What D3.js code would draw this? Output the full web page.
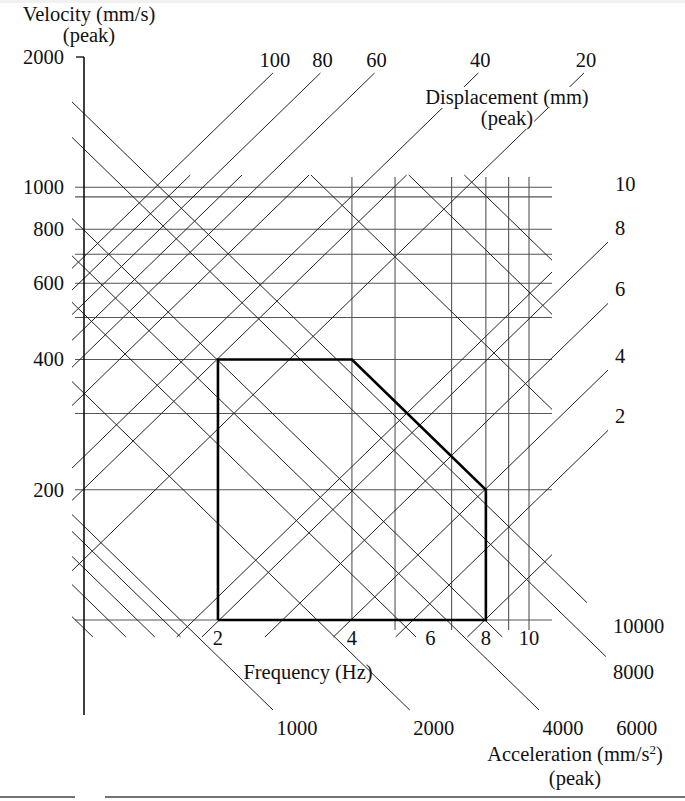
<!DOCTYPE html>
<html>
<head>
<meta charset="utf-8">
<script src="https://cdn.jsdelivr.net/npm/d3@7"></script>
<style>
  body { margin: 0; background: #fff; }
  svg { display: block; }
  text { font-family: "Liberation Serif", "DejaVu Serif", serif; fill: #111; }
</style>
</head>
<body>
<div id="chart"></div>
<script>
// values (velocity mm/s, frequency Hz)
var velTicks = [2000, 1000, 800, 600, 400, 200];
var velGrid = [100, 200, 300, 400, 500, 600, 700, 800, 950, 1000];
var freqTicks = [2, 4, 6, 8, 10];
var freqGridLong = [5, 6.7, 9, 10];
var freqGridShort = [4, 8];

// constant displacement lines (mm), where they sit in the drawing
var dispLines = [110, 98, 86, 75, 65, 53, 38, 32, 22, 9, 7.9, 5.7, 4, 2.9, 2];
var dispTop = [110, 86, 65, 38, 22];
var dispTopText = ["100", "80", "60", "40", "20"];
var dispRight = [10, 7.9, 5.7, 4, 2.9];
var dispRightText = ["10", "8", "6", "4", "2"];

// constant acceleration lines (mm/s^2)
var accLines = [48000, 36000, 21700, 9300, 7700, 5000, 4100, 3200, 2100, 1035, 946, 828, 713, 601];
var accBottom = [1035, 2100, 4100, 6000];
var accBottomText = ["1000", "2000", "4000", "6000"];
var accRight = [9300, 7700];
var accRightText = ["10000", "8000"];

// specified limit region
var boxF = [2, 2, 4, 8, 8, 2];
var boxV = [100, 400, 400, 200, 100, 100];

var width = 685, height = 801;
var svg = d3.select("#chart").append("svg").attr("width", width).attr("height", height);

var x = d3.scaleLog().domain([1, 10]).range([84, 529]);
var y = d3.scaleLog().domain([100, 2000]).range([620, 57]);

// extent of the diagonal net
var fMin = x.invert(72), fMax = x.invert(552);
var vMin = y.invert(637), vMax = y.invert(175);

var line = d3.line().x(d => x(d[0])).y(d => y(d[1]));
var TWO_PI = 2 * Math.PI;

svg.append("rect").attr("width", width).attr("height", 3).attr("fill", "#f1f1f1");
svg.append("line").attr("x1", 0).attr("x2", 75).attr("y1", 797).attr("y2", 797).attr("stroke", "#444").attr("stroke-width", 1.5);
svg.append("line").attr("x1", 105).attr("x2", width).attr("y1", 797).attr("y2", 797).attr("stroke", "#444").attr("stroke-width", 1.5);

var grid = svg.append("g").attr("stroke", "#555").attr("stroke-width", 1.1);
grid.selectAll(".h").data(velGrid).enter().append("path")
    .attr("d", v => line([[x.invert(75), v], [fMax, v]]));
grid.selectAll(".vl").data(freqGridLong).enter().append("path")
    .attr("d", f => line([[f, y.invert(177)], [f, y.invert(630)]]));
grid.selectAll(".vs").data(freqGridShort).enter().append("path")
    .attr("d", f => line([[f, y.invert(177)], [f, 100]]));

// diagonal lines
function dispSeg(d) {
    var k = TWO_PI * d;
    var f0 = Math.max(fMin, vMin / k);
    var f1 = Math.min(fMax, vMax / k);
    if (dispTop.indexOf(d) >= 0) f1 = y.invert(73) / k;
    if (dispRight.indexOf(d) >= 0) f1 = x.invert(608);
    return [[f0, k * f0], [f1, k * f1]];
}
function accSeg(a) {
    var k = a / TWO_PI;
    var f0 = Math.max(fMin, k / vMax);
    var f1 = Math.min(fMax, k / vMin);
    if (accBottom.indexOf(a) >= 0) { f0 = fMin; f1 = k / y.invert(710); }
    if (accRight.indexOf(a) >= 0) { f0 = fMin; f1 = x.invert(a > 8000 ? 587 : 606); }
    return [[f0, k / f0], [f1, k / f1]];
}

var diag = svg.append("g").attr("stroke", "#222").attr("stroke-width", 1).attr("fill", "none");
diag.selectAll(".d").data(dispLines).enter().append("path").attr("d", d => line(dispSeg(d)));
diag.selectAll(".a").data(accLines).enter().append("path").attr("d", a => line(accSeg(a)));

// limit box
svg.append("path")
    .attr("d", line(boxF.map((f, i) => [f, boxV[i]])))
    .attr("fill", "none").attr("stroke", "#000").attr("stroke-width", 2.6)
    .attr("stroke-linejoin", "miter");

// velocity axis
svg.append("path").attr("d", line([[1, 2000], [1, y.invert(715)]]))
    .attr("stroke", "#000").attr("stroke-width", 1.5);
svg.append("path").attr("d", line([[x.invert(76), 2000], [1, 2000]]))
    .attr("stroke", "#000").attr("stroke-width", 1.3);

var numSize = "20.5px", titleSize = "20.5px";

svg.selectAll(".vt").data(velTicks).enter().append("text")
    .attr("x", 64).attr("y", v => y(v) + 7)
    .attr("text-anchor", "end").style("font-size", numSize)
    .text(v => v);

svg.selectAll(".ft").data(freqTicks).enter().append("text")
    .attr("x", f => x(f)).attr("y", 645)
    .attr("text-anchor", "middle").style("font-size", numSize)
    .text(f => f);

// displacement labels
svg.selectAll(".dt").data(dispTop).enter().append("text")
    .attr("x", d => x(dispSeg(d)[1][0]) + 2).attr("y", 66.5)
    .attr("text-anchor", "middle").style("font-size", numSize)
    .text((d, i) => dispTopText[i]);

svg.selectAll(".dr").data(dispRight).enter().append("text")
    .attr("x", 615).attr("y", d => y(TWO_PI * d * x.invert(608)) - 7)
    .style("font-size", numSize)
    .text((d, i) => dispRightText[i]);

// acceleration labels
svg.selectAll(".ab").data(accBottom).enter().append("text")
    .attr("x", a => x(a / TWO_PI / y.invert(710)) + 24).attr("y", 735)
    .attr("text-anchor", "middle").style("font-size", numSize)
    .text((a, i) => accBottomText[i]);

svg.selectAll(".ar").data(accRight).enter().append("text")
    .attr("x", 613).attr("y", (a, i) => { var s = accSeg(a)[1]; return y(s[1]) + (i === 0 ? 30 : 22); })
    .style("font-size", numSize)
    .text((a, i) => accRightText[i]);

// titles: one text element, one tspan per line
function title(lines, cx, baselines, mask) {
    var tx = svg.append("text").attr("text-anchor", "middle").style("font-size", titleSize);
    lines.forEach(function (t, i) {
        var row = tx.append("tspan").attr("x", cx).attr("y", baselines[i]);
        if (Array.isArray(t)) {
            row.text(t[0]);
            tx.append("tspan").attr("dy", -7).style("font-size", "13px").text(t[1]);
            tx.append("tspan").attr("dy", 7).text(t[2]);
        } else {
            row.text(t);
        }
        if (mask) {
            var b = row.node().getBBox();
            svg.insert("rect", "text").attr("x", b.x - 1).attr("y", b.y + 1).attr("width", b.width + 2)
                .attr("height", b.height - 2).attr("fill", "#fff");
        }
    });
}

title(["Velocity (mm/s)", "(peak)"], 89, [21, 42], false);
title(["Displacement (mm)", "(peak)"], 507, [104, 125], true);
title(["Frequency (Hz)"], 308, [679], false);
title([["Acceleration (mm/s", "2", ")"], "(peak)"], 575, [761, 785], false);
</script>
</body>
</html>
